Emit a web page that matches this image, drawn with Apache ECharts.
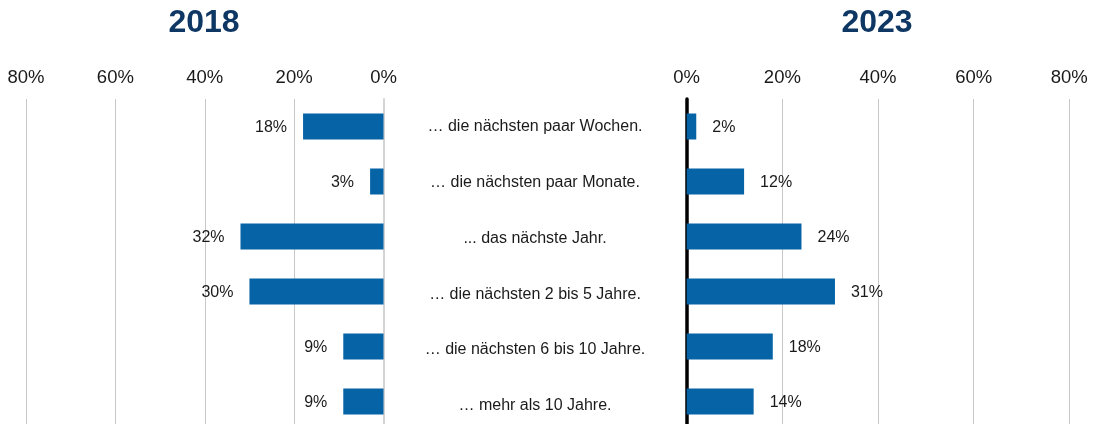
<!DOCTYPE html>
<html>
<head>
<meta charset="utf-8">
<style>
  html, body { margin: 0; padding: 0; background: #ffffff; }
  #chart { width: 1098px; height: 424px; }
</style>
<script src="https://cdn.jsdelivr.net/npm/echarts@6/dist/echarts.min.js"></script>
</head>
<body>
<div id="chart"></div>
<script>
// Zeithorizonte (Kategorien), von oben nach unten
const categories = [
  '… die nächsten paar Wochen.',
  '… die nächsten paar Monate.',
  '... das nächste Jahr.',
  '… die nächsten 2 bis 5 Jahre.',
  '… die nächsten 6 bis 10 Jahre.',
  '… mehr als 10 Jahre.'
];
// Anteile in Prozent
const values2018 = [18, 3, 32, 30, 9, 9];
const values2023 = [2, 12, 24, 31, 18, 14];
const yearLabels = ['2018', '2023'];
const axisMax = 80;
const axisStep = 20;

const FONT = '"Liberation Sans", Arial, Helvetica, sans-serif';
const BAR = '#0563a6';
const GRID_LINE = '#c8c8c8';

const chart = echarts.init(document.getElementById('chart'), null, { renderer: 'canvas' });

function valueAxis(gridIndex, inverse) {
  return {
    type: 'value', gridIndex: gridIndex, position: 'top', inverse: inverse,
    min: 0, max: axisMax, interval: axisStep,
    axisLine: { show: false }, axisTick: { show: false },
    axisLabel: { formatter: '{value}%', fontFamily: FONT, fontSize: 18.5, color: '#1a1a1a', margin: 12 },
    splitLine: { show: true, lineStyle: { color: GRID_LINE, width: 1 } }
  };
}

function barSeries(idx, data, side) {
  return {
    type: 'bar', xAxisIndex: idx, yAxisIndex: idx, data: data,
    barWidth: 26,
    itemStyle: { color: BAR },
    label: {
      show: true, position: side, distance: 16, formatter: '{c}%',
      fontFamily: FONT, fontSize: 16, color: '#1a1a1a', offset: [0, 1]
    },
    silent: true, animation: false
  };
}

chart.setOption({
  animation: false,
  backgroundColor: '#ffffff',
  grid: [
    { left: 26, right: 1098 - 383.5, top: 99, height: 330, outerBoundsMode: 'none', containLabel: false },
    { left: 686.7, right: 1098 - 1069.3, top: 99, height: 330, outerBoundsMode: 'none', containLabel: false },
    { left: 535, width: 1, top: 98.8, height: 335, outerBoundsMode: 'none', containLabel: false }
  ],
  xAxis: [
    valueAxis(0, true),
    valueAxis(1, false),
    { type: 'value', gridIndex: 2, min: 0, max: 1, show: false }
  ],
  yAxis: [
    {
      type: 'category', gridIndex: 0, data: categories, inverse: true, position: 'right',
      axisLine: { show: true, lineStyle: { color: '#d4d4d4', width: 2 } },
      axisTick: { show: false }, axisLabel: { show: false }
    },
    {
      type: 'category', gridIndex: 1, data: categories, inverse: true, position: 'left',
      axisLine: { show: true, lineStyle: { color: '#000000', width: 3.5 } },
      axisTick: { show: false }, axisLabel: { show: false }
    },
    {
      type: 'category', gridIndex: 2, data: categories, inverse: true, position: 'left',
      axisLine: { show: false }, axisTick: { show: false },
      axisLabel: { show: true, align: 'center', margin: 0, fontFamily: FONT, fontSize: 16, color: '#1a1a1a' }
    }
  ],
  graphic: [
    {
      type: 'text', x: 204, y: 23,
      style: { text: yearLabels[0], fontFamily: FONT, fontWeight: 'bold', fontSize: 32, fill: '#0f3764',
               textAlign: 'center', textVerticalAlign: 'middle' }
    },
    {
      type: 'text', x: 877, y: 23,
      style: { text: yearLabels[1], fontFamily: FONT, fontWeight: 'bold', fontSize: 32, fill: '#0f3764',
               textAlign: 'center', textVerticalAlign: 'middle' }
    }
  ],
  series: [
    barSeries(0, values2018, 'left'),
    barSeries(1, values2023, 'right')
  ]
});
</script>
</body>
</html>
